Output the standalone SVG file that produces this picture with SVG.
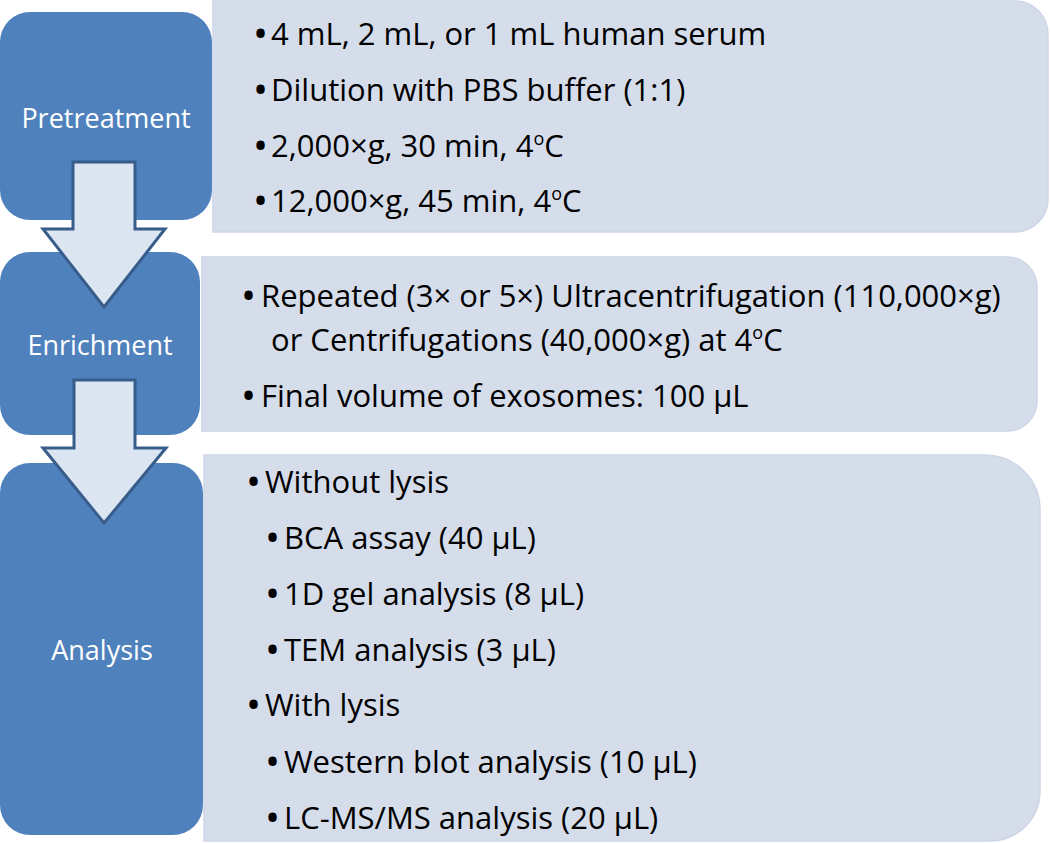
<svg xmlns="http://www.w3.org/2000/svg" width="1050" height="843" viewBox="0 0 1050 843">
<style>
.blue{fill:#4f81bd;}
.panel{fill:#d5dcea;stroke:#cdd6e7;stroke-width:1.5;}
.arrow{fill:#dce6f2;stroke:#385d8a;stroke-width:3;stroke-linejoin:miter;}
.lbl{font-family:"Open Sans","Noto Sans",sans-serif;font-size:27px;fill:#ffffff;text-anchor:middle;}
.t{font-family:"Open Sans","Noto Sans",sans-serif;font-size:31px;fill:#000000;}
.b{font-family:"Open Sans","Noto Sans",sans-serif;font-size:40px;fill:#000000;}
.sup{font-size:18px;}
</style>
<rect width="1050" height="843" fill="#ffffff"/>
<g id="pretreatment">
<rect class="blue" x="0" y="12" width="212" height="208" rx="30" ry="30"/>
<text class="lbl" x="106" y="128">Pretreatment</text>
</g>
<g id="pretreatment-details">
<path class="panel" d="M213,1 H1015 A33,33 0 0 1 1048,34 V199 A33,33 0 0 1 1015,232 H213 Z"/>
<text class="b" x="253" y="48">•</text><text class="t" x="271" y="45">4 mL, 2 mL, or 1 mL human serum</text>
<text class="b" x="253" y="104">•</text><text class="t" x="271" y="101">Dilution with PBS buffer (1:1)</text>
<text class="b" x="253" y="160">•</text><text class="t" x="271" y="157">2,000×g, 30 min, 4<tspan class="sup" dy="-12">o</tspan><tspan dy="12">C</tspan></text>
<text class="b" x="253" y="215">•</text><text class="t" x="271" y="212">12,000×g, 45 min, 4<tspan class="sup" dy="-12">o</tspan><tspan dy="12">C</tspan></text>
</g>
<g id="enrichment">
<rect class="blue" x="0" y="252" width="200" height="183" rx="30" ry="30"/>
<text class="lbl" x="100" y="355">Enrichment</text>
</g>
<g id="enrichment-details">
<path class="panel" d="M202,257 H1007 A30,30 0 0 1 1037,287 V401 A30,30 0 0 1 1007,431 H202 Z"/>
<text class="b" x="241" y="310">•</text><text class="t" x="261" y="307">Repeated (3× or 5×) Ultracentrifugation (110,000×g)</text>
<text class="t" x="271" y="351">or Centrifugations (40,000×g) at 4<tspan class="sup" dy="-12">o</tspan><tspan dy="12">C</tspan></text>
<text class="b" x="241" y="410">•</text><text class="t" x="261" y="407">Final volume of exosomes: 100 μL</text>
</g>
<g id="analysis">
<rect class="blue" x="0" y="463" width="203" height="372" rx="30" ry="30"/>
<text class="lbl" x="102" y="660">Analysis</text>
</g>
<g id="analysis-details">
<path class="panel" d="M204,455 H985 A55,55 0 0 1 1040,510 V791 A50,50 0 0 1 990,841 H204 Z"/>
<text class="b" x="246" y="496">•</text><text class="t" x="265" y="493">Without lysis</text>
<text class="b" x="265" y="552">•</text><text class="t" x="284" y="549">BCA assay (40 μL)</text>
<text class="b" x="265" y="608">•</text><text class="t" x="284" y="605">1D gel analysis (8 μL)</text>
<text class="b" x="265" y="664">•</text><text class="t" x="284" y="661">TEM analysis (3 μL)</text>
<text class="b" x="246" y="719">•</text><text class="t" x="265" y="716">With lysis</text>
<text class="b" x="265" y="776">•</text><text class="t" x="284" y="773">Western blot analysis (10 μL)</text>
<text class="b" x="265" y="832">•</text><text class="t" x="284" y="829">LC-MS/MS analysis (20 μL)</text>
</g>
<g id="connectors">
<polygon class="arrow" points="73,162 135,162 135,229 165,229 104,307 43,229 73,229"/>
<polygon class="arrow" points="74,380 135,380 135,448 166,448 104,523 43,448 74,448"/>
</g>
</svg>
